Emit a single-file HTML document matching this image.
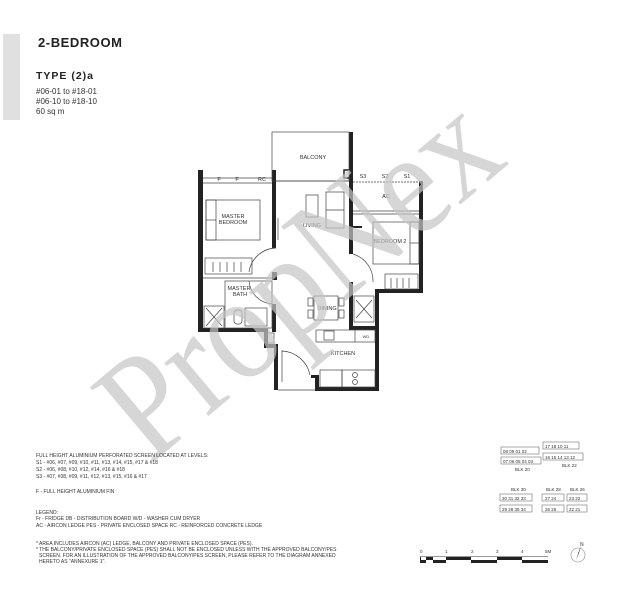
<!DOCTYPE html>
<html><head><meta charset="utf-8"><style>
body{margin:0;background:#fff;width:627px;height:600px;overflow:hidden}
svg{display:block}
.s{font-family:"Liberation Sans",sans-serif}
</style></head><body>
<svg width="627" height="600" viewBox="0 0 627 600" xmlns="http://www.w3.org/2000/svg">
<rect x="3" y="34" width="17" height="86" fill="#e0e0e0"/>
<g class="s">
<text x="38" y="47" font-size="13" font-weight="bold" letter-spacing="1" fill="#222" textLength="85">2-BEDROOM</text>
<text x="36" y="79" font-size="10.5" font-weight="bold" letter-spacing="1" fill="#222">TYPE (2)a</text>
<text x="36" y="94" font-size="8" fill="#333">#06-01 to #18-01</text>
<text x="36" y="104" font-size="8" fill="#333">#06-10 to #18-10</text>
<text x="36" y="114" font-size="8" fill="#333">60 sq m</text>
</g>

<g fill="#222" stroke="none">
<rect x="198" y="170" width="5" height="162"/>
<rect x="198" y="328" width="70" height="4"/>
<rect x="272" y="170" width="4" height="78"/>
<rect x="272" y="272" width="5" height="8"/>
<rect x="272" y="304" width="4" height="28"/>
<rect x="264" y="328" width="4" height="20"/>
<rect x="264" y="344" width="14" height="4"/>
<rect x="274" y="344" width="4" height="46"/>
<rect x="349" y="132" width="4" height="122"/>
<rect x="344" y="170" width="8" height="8" fill="none" stroke="#222" stroke-width="1.5"/>
<rect x="349" y="282" width="4" height="48"/>
<rect x="419" y="181" width="4" height="112"/>
<rect x="378" y="289" width="45" height="4"/>
<rect x="375" y="289" width="4" height="102"/>
<rect x="352" y="326" width="26" height="4"/>
<rect x="315" y="387" width="64" height="4"/>
<rect x="315" y="375" width="4" height="16"/>
<rect x="311" y="375" width="8" height="3"/>
<rect x="352" y="226" width="10" height="2"/>
</g>
<g fill="none" stroke="#444" stroke-width="0.7">
<rect x="272" y="132" width="77" height="49"/>
<line x1="276" y1="181" x2="349" y2="181"/>
<line x1="203" y1="178" x2="272" y2="178"/>
<line x1="203" y1="183" x2="272" y2="183"/>
<line x1="353" y1="182" x2="419" y2="182" stroke-dasharray="2,1"/>
<line x1="353" y1="211" x2="419" y2="211"/>
<line x1="353" y1="214" x2="419" y2="214"/>
<rect x="206" y="200" width="54" height="40"/>
<rect x="206" y="200" width="10" height="40"/>
<line x1="206" y1="220" x2="216" y2="220"/>
<rect x="205" y="258" width="47" height="16"/>
<line x1="213" y1="262" x2="213" y2="272"/><line x1="220" y1="262" x2="220" y2="272"/><line x1="227" y1="262" x2="227" y2="272"/><line x1="234" y1="262" x2="234" y2="272"/><line x1="241" y1="262" x2="241" y2="272"/>
<line x1="203" y1="278" x2="272" y2="278"/>
<rect x="225" y="281" width="47" height="47"/>
<rect x="204" y="306" width="20" height="22"/>
<line x1="206" y1="308" x2="222" y2="326"/><line x1="222" y1="308" x2="206" y2="326"/>
<rect x="245" y="308" width="22" height="18"/>
<rect x="234" y="310" width="8" height="14" rx="3"/>
<path d="M276 248 A28 28 0 0 0 249 272"/>
<path d="M249 281 A25 25 0 0 0 272 304"/>
<rect x="306" y="195" width="12" height="22"/>
<rect x="326" y="192" width="18" height="36"/>
<line x1="326" y1="210" x2="344" y2="210"/>
<line x1="278" y1="218" x2="278" y2="240"/>
<rect x="373" y="222" width="46" height="42"/>
<rect x="410" y="222" width="9" height="42"/>
<line x1="410" y1="243" x2="419" y2="243"/>
<rect x="385" y="274" width="33" height="15"/>
<line x1="391" y1="278" x2="391" y2="288"/><line x1="397" y1="278" x2="397" y2="288"/><line x1="403" y1="278" x2="403" y2="288"/><line x1="409" y1="278" x2="409" y2="288"/>
<path d="M353 254 A28 28 0 0 1 373 282"/>
<rect x="314" y="296" width="24" height="24"/>
<rect x="308" y="298" width="5" height="8"/><rect x="308" y="310" width="5" height="8"/>
<rect x="339" y="298" width="5" height="8"/><rect x="339" y="310" width="5" height="8"/>
<rect x="354" y="296" width="20" height="26"/>
<line x1="356" y1="300" x2="372" y2="318"/><line x1="372" y1="300" x2="356" y2="318"/>
<rect x="316" y="330" width="59" height="12"/>
<line x1="355" y1="330" x2="355" y2="342"/>
<rect x="324" y="331" width="10" height="9"/>
<rect x="320" y="370" width="22" height="17"/>
<rect x="342" y="370" width="33" height="17"/>
<circle cx="355" cy="375" r="2.5"/><circle cx="355" cy="382" r="2.5"/>
<path d="M282 350 L282 382 M282 351 A30 30 0 0 1 310 375"/>
<line x1="278" y1="390" x2="315" y2="390"/>
<rect x="266" y="333" width="8" height="10"/>
</g>
<g class="s" font-size="5.5" fill="#333" text-anchor="middle">
<text x="313" y="159">BALCONY</text>
<text x="233" y="218">MASTER</text><text x="233" y="224">BEDROOM</text>
<text x="312" y="227">LIVING</text>
<text x="390" y="243">BEDROOM 2</text>
<text x="386" y="198">AC</text>
<text x="363" y="178">S3</text><text x="385" y="178">S2</text><text x="407" y="178">S1</text>
<text x="219" y="181">F</text><text x="237" y="181">F</text><text x="262" y="181">RC</text>
<text x="239" y="290">MASTER</text><text x="240" y="296">BATH</text>
<text x="327" y="310">DINING</text>
<text x="343" y="355">KITCHEN</text>
<text x="366" y="338" font-size="4">WD</text>
</g>
<text x="150" y="465" font-size="150" style="font-family:'Liberation Serif',serif" fill="#c4c4c4" fill-opacity="0.7" transform="rotate(-40 150 465)" textLength="470" lengthAdjust="spacingAndGlyphs">PropNex</text>

<g class="s" font-size="5" fill="#333">
<text x="36" y="457">FULL HEIGHT ALUMINIUM PERFORATED SCREEN LOCATED AT LEVELS:</text>
<text x="36" y="464">S1 - #06, #07, #09, #10, #11, #13, #14, #15, #17 &amp; #18</text>
<text x="36" y="471">S2 - #06, #08, #10, #12, #14, #16 &amp; #18</text>
<text x="36" y="478">S3 - #07, #08, #09, #11, #12, #13, #15, #16 &amp; #17</text>
<text x="36" y="493">F - FULL HEIGHT ALUMINIUM FIN</text>
<text x="36" y="514">LEGEND:</text>
<text x="36" y="520">Fr - FRIDGE   DB - DISTRIBUTION BOARD   W/D - WASHER CUM DRYER</text>
<text x="36" y="527">AC - AIRCON LEDGE   PES - PRIVATE ENCLOSED SPACE   RC - REINFORCED CONCRETE LEDGE</text>
<text x="36" y="545">* AREA INCLUDES AIRCON (AC) LEDGE, BALCONY AND PRIVATE ENCLOSED SPACE (PES).</text>
<text x="36" y="551">* THE BALCONY/PRIVATE ENCLOSED SPACE (PES) SHALL NOT BE ENCLOSED UNLESS WITH THE APPROVED BALCONY/PES</text>
<text x="39" y="557">SCREEN. FOR AN ILLUSTRATION OF THE APPROVED BALCONY/PES SCREEN, PLEASE REFER TO THE DIAGRAM ANNEXED</text>
<text x="39" y="563">HERETO AS "ANNEXURE 1".</text>
</g>
<g class="s" font-size="4.5" fill="#333" stroke="#555" stroke-width="0.5">
<g fill="none">
<rect x="501" y="447" width="38" height="7"/><rect x="501" y="457" width="40" height="7"/>
<rect x="543" y="442" width="36" height="7"/><rect x="543" y="453" width="40" height="7"/>
<rect x="500" y="494" width="32" height="7"/><rect x="500" y="505" width="32" height="7"/>
<rect x="542" y="494" width="22" height="7"/><rect x="542" y="505" width="22" height="7"/>
<rect x="567" y="494" width="20" height="7"/><rect x="567" y="505" width="20" height="7"/>
</g>
<g stroke="none">
<text x="503" y="453">08 09 01 02</text><text x="503" y="463">07 06 05 04 03</text><text x="515" y="471">BLK 20</text>
<text x="545" y="448">17 18 10 11</text><text x="545" y="459">16 15 14 13 12</text><text x="562" y="467">BLK 22</text>
<text x="511" y="491">BLK 30</text><text x="546" y="491">BLK 28</text><text x="570" y="491">BLK 26</text>
<text x="502" y="500">30 31 32 33</text><text x="502" y="511">29 28 35 34</text>
<text x="545" y="500">27  24</text><text x="545" y="511">26  25</text>
<text x="569" y="500">23  22</text><text x="569" y="511">22  21</text>
</g>
</g>
<g fill="#222">
<rect x="420" y="556" width="128" height="1" fill="#999"/>
<rect x="420" y="560" width="6" height="3"/><rect x="426" y="557" width="7" height="3"/><rect x="433" y="560" width="13" height="3"/>
<rect x="446" y="557" width="25" height="3"/><rect x="471" y="560" width="26" height="3"/><rect x="497" y="557" width="25" height="3"/><rect x="522" y="560" width="26" height="3"/>
<rect x="420" y="557" width="1" height="6"/>
</g>
<g class="s" font-size="4.5" fill="#333">
<text x="420" y="553">0</text><text x="445" y="553">1</text><text x="471" y="553">2</text><text x="496" y="553">3</text><text x="521" y="553">4</text><text x="545" y="553">5M</text>
<text x="580" y="546" font-size="5">N</text>
</g>
<circle cx="578" cy="555" r="7" fill="none" stroke="#888" stroke-width="0.6"/>
<path d="M581 545 L576 560 L579 553 Z" fill="#222"/>
</svg>
</body></html>
